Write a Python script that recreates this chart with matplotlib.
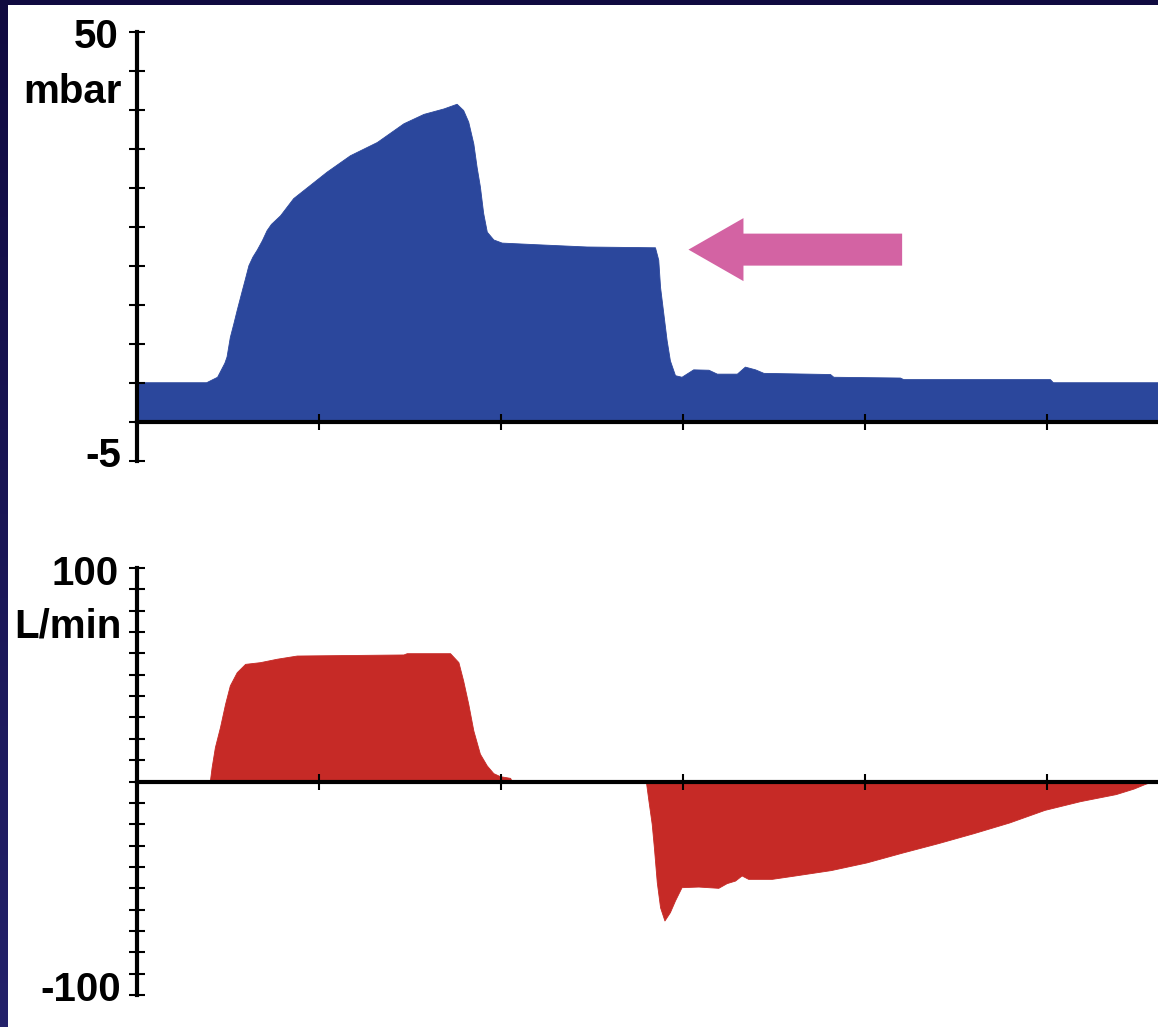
import numpy as np
import matplotlib
matplotlib.use("Agg")
import matplotlib.pyplot as plt
from matplotlib.patches import Rectangle, FancyArrow
from matplotlib.transforms import blended_transform_factory
from matplotlib.ticker import NullFormatter
from matplotlib.colors import LinearSegmentedColormap

# ---------------- data ----------------
# Airway pressure (mbar) vs time (s)
p_time = [0.0, 0.19, 0.22, 0.24, 0.246, 0.255, 0.265, 0.274, 0.288, 0.296,
          0.306, 0.317, 0.329, 0.343, 0.356, 0.368, 0.393, 0.429, 0.475, 0.521,
          0.585, 0.659, 0.732, 0.787, 0.842, 0.878,
          0.896, 0.910, 0.924, 0.933, 0.942, 0.951, 0.961, 0.979, 1.002, 1.093,
          1.235, 1.423, 1.432, 1.437, 1.446, 1.455, 1.464, 1.478, 1.496, 1.528,
          1.570, 1.593, 1.648, 1.670, 1.698, 1.721, 1.904, 1.913, 2.096, 2.105,
          2.508, 2.516, 2.805]
p_val = [5.1, 5.1, 5.8, 7.6, 8.4, 10.9, 12.7, 14.4, 16.9, 18.3,
         20.1, 21.2, 22.1, 23.3, 24.6, 25.4, 26.5, 28.7, 30.4, 32.1,
         34.2, 35.9, 38.3, 39.5, 40.2, 40.8,
         40.0, 38.5, 35.7, 32.7, 30.2, 26.8, 24.4, 23.4, 23.0, 22.8,
         22.5, 22.4, 20.8, 17.3, 13.9, 10.5, 7.9, 6.0, 5.8, 6.75,
         6.7, 6.2, 6.2, 7.1, 6.75, 6.3, 6.15, 5.8, 5.7, 5.5,
         5.5, 5.1, 5.1]

# Flow (L/min) vs time (s)
f_time = [0.0, 0.200, 0.205, 0.214, 0.228, 0.242, 0.255, 0.274, 0.297, 0.338,
          0.384, 0.439, 0.732, 0.741, 0.860, 0.883, 0.896, 0.910, 0.924, 0.942,
          0.961, 0.979, 0.997, 1.025, 1.030, 1.398, 1.405, 1.414, 1.420, 1.428,
          1.437, 1.449, 1.464, 1.478, 1.496, 1.542, 1.597, 1.620, 1.643, 1.661,
          1.679, 1.744, 1.808, 1.906, 2.004, 2.102, 2.200, 2.298, 2.396, 2.493,
          2.591, 2.689, 2.738, 2.768, 2.788, 2.805]
f_val = [0.0, 0.0, 6.7, 16.1, 25.5, 36.4, 45.0, 51.2, 55.1, 55.9,
         57.5, 59.0, 59.5, 60.1, 60.1, 55.9, 47.3, 36.4, 23.9, 13.0,
         7.5, 3.9, 2.5, 1.7, 0.0, 0.0, -8.9, -19.8, -30.8, -47.2,
         -58.9, -65.1, -61.2, -55.7, -49.5, -49.2, -49.8, -47.6, -46.4, -44.0,
         -45.6, -45.6, -44.0, -41.5, -37.9, -33.3, -28.9, -24.2, -19.2, -13.3,
         -9.2, -5.9, -3.3, -1.2, 0.0, 0.0]

p_ticks = list(range(-5, 51, 5))
f_ticks = list(range(-100, 101, 10))
x_ticks = [0.5, 1.0, 1.5, 2.0, 2.5]
p_labels = {50: "50", -5: "-5"}
f_labels = {100: "100", -100: "-100"}
p_unit = "mbar"
f_unit = "L/min"

# arrow annotation (points to end of plateau)
arrow_tip = (1.515, 22.1)
arrow_tail_x = 2.102

BLUE = "#2b479c"
RED = "#c62a26"
PINK = "#d363a3"

plt.rcParams['font.family'] = ['Liberation Sans', 'DejaVu Sans']

W, H = 1158, 1027
fig = plt.figure(figsize=(W / 100, H / 100), dpi=100)
fig.patch.set_facecolor("#100a40")

# background: dark navy frame with slight vertical gradient, white panel
bg = fig.add_axes([0, 0, 1, 1], zorder=-10)
bg.set_axis_off()
grad = np.linspace(0, 1, 256).reshape(-1, 1)
cmap = LinearSegmentedColormap.from_list("navy", ["#24226b", "#100a40"])
bg.imshow(grad, aspect="auto", cmap=cmap, extent=[0, 1, 0, 1], origin="lower")
bg.add_patch(Rectangle((8 / W, 0), 1 - 8 / W, 1 - 5 / H, facecolor="white",
                       edgecolor="none", transform=bg.transAxes))
bg.set_xlim(0, 1)
bg.set_ylim(0, 1)

left = 137 / W
width = 1 - left
XMAX = (W - 137) / 364.0

def style_axes(ax, yticks):
    ax.set_facecolor("none")
    for s in ("top", "right"):
        ax.spines[s].set_visible(False)
    ax.spines["bottom"].set_position(("data", 0))
    for s in ("left", "bottom"):
        ax.spines[s].set_linewidth(3.0)
        ax.spines[s].set_color("black")
    ax.set_xlim(0, XMAX)
    ax.set_xticks(x_ticks)
    ax.set_yticks(yticks)
    ax.xaxis.set_major_formatter(NullFormatter())
    ax.yaxis.set_major_formatter(NullFormatter())
    ax.tick_params(axis="x", direction="inout", length=11, width=1.5, color="black")
    ax.tick_params(axis="y", direction="inout", length=11.5, width=1.5, color="black")

fs = 29
# ---------------- pressure panel ----------------
ax1 = fig.add_axes([left, 1 - 461 / H, width, (461 - 32) / H])
ax1.fill_between(p_time, 0, p_val, color=BLUE, linewidth=0.6, edgecolor=BLUE)
ax1.set_ylim(-5, 50)
style_axes(ax1, p_ticks)
tr1 = blended_transform_factory(fig.transFigure, ax1.transData)
ax1.text(119 / W, 49.3, p_labels[50], transform=tr1, ha="right", va="center",
         fontsize=fs, fontweight="bold")
ax1.text(122 / W, 42.3, p_unit, transform=tr1, ha="right", va="center",
         fontsize=fs, fontweight="bold")
ax1.text(121 / W, -4.4, p_labels[-5], transform=tr1, ha="right", va="center",
         fontsize=fs, fontweight="bold")

ax1.add_patch(FancyArrow(arrow_tail_x, arrow_tip[1], arrow_tip[0] - arrow_tail_x, 0,
                         width=32 / 7.8, head_width=63 / 7.8, head_length=55 / 364,
                         length_includes_head=True, color=PINK, linewidth=0,
                         clip_on=False))

# ---------------- flow panel ----------------
ax2 = fig.add_axes([left, 1 - 995 / H, width, (995 - 568) / H])
ax2.fill_between(f_time, 0, f_val, color=RED, linewidth=0.6, edgecolor=RED)
ax2.set_ylim(-100, 100)
style_axes(ax2, f_ticks)
tr2 = blended_transform_factory(fig.transFigure, ax2.transData)
ax2.text(119 / W, 97.4, f_labels[100], transform=tr2, ha="right", va="center",
         fontsize=fs, fontweight="bold")
ax2.text(122 / W, 72.6, f_unit, transform=tr2, ha="right", va="center",
         fontsize=fs, fontweight="bold")
ax2.text(121 / W, -97.5, f_labels[-100], transform=tr2, ha="right", va="center",
         fontsize=fs, fontweight="bold")

fig.savefig("out.png", dpi=100, facecolor=fig.get_facecolor())
